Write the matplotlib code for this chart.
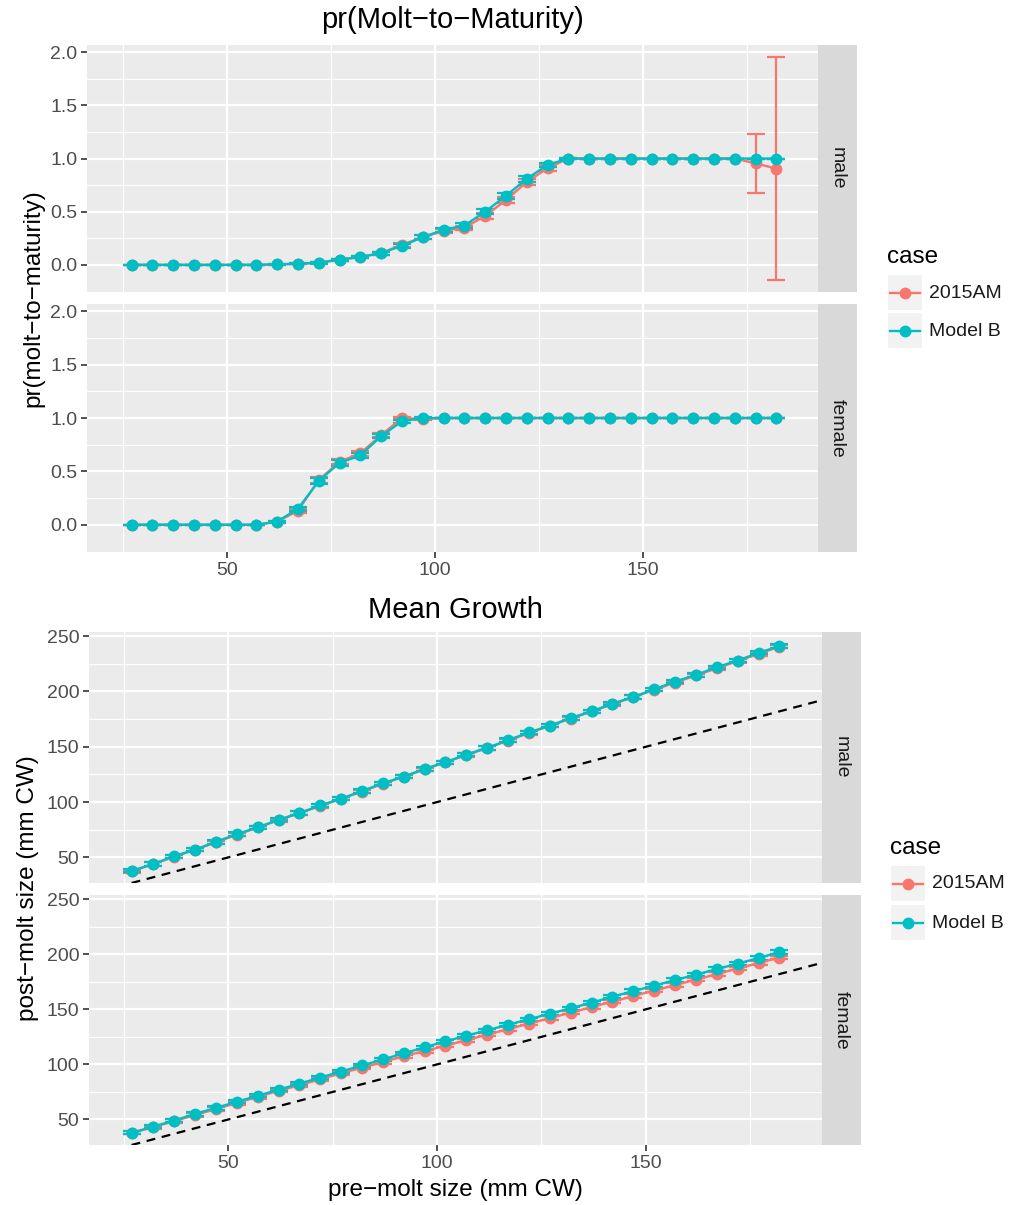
import matplotlib
matplotlib.use("Agg")
import matplotlib.pyplot as plt
from matplotlib.lines import Line2D

plt.rcParams['font.family'] = ['Liberation Sans', 'DejaVu Sans']

# pre-molt size bins (mm CW)
size_bins = [27, 32, 37, 42, 47, 52, 57, 62, 67, 72, 77, 82, 87, 92, 97, 102,
             107, 112, 117, 122, 127, 132, 137, 142, 147, 152, 157, 162, 167, 172, 177, 182]
cases = ['2015AM', 'Model B']

# pr(molt-to-maturity)
mat_male_am = [0, 0, 0, 0, 0, 0, 0, 0.005, 0.01, 0.02, 0.05, 0.075, 0.11, 0.19, 0.26, 0.32,
               0.35, 0.46, 0.61, 0.78, 0.91, 1, 1, 1, 1, 1, 1, 1, 1, 1, 0.955, 0.905]
mat_male_b = [0, 0, 0, 0, 0, 0, 0, 0.005, 0.01, 0.02, 0.05, 0.075, 0.11, 0.18, 0.26, 0.33,
              0.37, 0.50, 0.65, 0.81, 0.94, 1, 1, 1, 1, 1, 1, 1, 1, 1, 1, 1]
mat_female_am = [0, 0, 0, 0, 0, 0, 0, 0.03, 0.13, 0.42, 0.59, 0.67, 0.84, 1.0, 0.99, 1,
                 1, 1, 1, 1, 1, 1, 1, 1, 1, 1, 1, 1, 1, 1, 1, 1]
mat_female_b = [0, 0, 0, 0, 0, 0, 0, 0.03, 0.15, 0.41, 0.58, 0.65, 0.83, 0.97, 1.0, 1,
                1, 1, 1, 1, 1, 1, 1, 1, 1, 1, 1, 1, 1, 1, 1, 1]
# half-widths of the error bars
mat_male_am_ci = [0, 0, 0, 0, 0, 0, 0, 0.003, 0.005, 0.008, 0.01, 0.012, 0.015, 0.02, 0.02, 0.02,
                  0.02, 0.025, 0.03, 0.03, 0.025, 0.005, 0, 0, 0, 0, 0, 0, 0, 0, 0.275, 1.05]
mat_male_b_ci = [0, 0, 0, 0, 0, 0, 0, 0.003, 0.005, 0.008, 0.01, 0.012, 0.015, 0.02, 0.02, 0.02,
                 0.02, 0.025, 0.03, 0.03, 0.02, 0.005, 0, 0, 0, 0, 0, 0, 0, 0, 0, 0]
mat_female_am_ci = [0, 0, 0, 0, 0, 0, 0, 0.01, 0.02, 0.025, 0.025, 0.025, 0.02, 0.01, 0.005, 0,
                    0, 0, 0, 0, 0, 0, 0, 0, 0, 0, 0, 0, 0, 0, 0, 0]
mat_female_b_ci = [0, 0, 0, 0, 0, 0, 0, 0.01, 0.02, 0.025, 0.025, 0.025, 0.02, 0.015, 0.005, 0,
                   0, 0, 0, 0, 0, 0, 0, 0, 0, 0, 0, 0, 0, 0, 0, 0]

# mean post-molt size (mm CW)
grow_male_am = [37.5, 44, 50.5, 57, 63.5, 70.5, 77, 83.5, 90, 96.5, 103, 109.5, 116.5, 123, 129.5, 136,
                142.5, 149, 155.5, 162.5, 169, 175.5, 182, 188.5, 195, 201.5, 208, 214.5, 221, 227.5, 234, 240.5]
grow_male_b = [38, 44, 51, 57, 64, 71, 77, 84, 90, 97, 103, 110, 117, 123, 130, 136,
               143, 149, 156, 163, 169, 176, 182, 189, 195, 202, 209, 215, 222, 228, 235, 241]
grow_female_am = [38, 43, 48.5, 54, 59.5, 65, 70.5, 76, 81, 86.5, 92, 97, 102, 107.5, 112, 117,
                  122, 127, 132, 137, 142, 147, 152, 157, 162, 167, 172, 177, 182, 187, 192, 197]
grow_female_b = [38, 43.5, 49, 55, 60.5, 66, 71.5, 77, 82.5, 88, 93.5, 99, 104.5, 110, 115.5, 121,
                 126, 131, 136, 141, 146, 151, 156, 161.5, 166.5, 171.5, 176.5, 181.5, 186.5, 191.5, 196.5, 202]
grow_ci = [1.5] * 32

COLORS = {'2015AM': '#F8766D', 'Model B': '#00BFC4'}
PANEL_BG = '#EBEBEB'
STRIP_BG = '#D9D9D9'
TICK_COL = '#4D4D4D'

W, H = 1025, 1205
fig = plt.figure(figsize=(W / 100, H / 100), dpi=100)


def fbox(l, t, r, b):
    return [l / W, 1 - b / H, (r - l) / W, (b - t) / H]


def ftext(x, y, s, **kw):
    fig.text(x / W, 1 - y / H, s, **kw)


def panel(box, xlim, ylim, yticks, yminor, show_x):
    ax = fig.add_axes(fbox(*box))
    ax.set_facecolor(PANEL_BG)
    ax.set_xlim(*xlim)
    ax.set_ylim(*ylim)
    ax.set_xticks([50, 100, 150])
    ax.set_xticks([25, 75, 125, 175], minor=True)
    ax.set_yticks(yticks)
    ax.set_yticks(yminor, minor=True)
    ax.grid(True, which='major', color='white', lw=1.6)
    ax.grid(True, which='minor', color='white', lw=0.8)
    ax.set_axisbelow(True)
    for s in ax.spines.values():
        s.set_visible(False)
    ax.tick_params(which='minor', length=0)
    ax.tick_params(which='major', length=4, width=1.2, color='#333333',
                   labelsize=14, labelcolor=TICK_COL, pad=3)
    if not show_x:
        ax.tick_params(axis='x', which='major', length=0, labelbottom=False)
    return ax


def strip(box, label):
    sx = fig.add_axes(fbox(*box))
    sx.set_facecolor(STRIP_BG)
    sx.set_xticks([])
    sx.set_yticks([])
    for s in sx.spines.values():
        s.set_visible(False)
    sx.text(0.5, 0.5, label, rotation=270, ha='center', va='center',
            fontsize=14, color='#1A1A1A', transform=sx.transAxes)


def series(ax, y, ci, case):
    ax.errorbar(size_bins, y, yerr=ci, color=COLORS[case], lw=1.7, marker='o', ms=7.5,
                capsize=6.7, elinewidth=1.6, capthick=1.6, zorder=3)


def legend(x, y_title, key_tops):
    ftext(x, y_title, 'case', fontsize=17.5, ha='left', va='center')
    for case, top in zip(cases, key_tops):
        kx = fig.add_axes(fbox(x + 1, top, x + 35, top + 35))
        kx.set_facecolor('#F2F2F2')
        kx.set_xlim(0, 1)
        kx.set_ylim(0, 1)
        kx.set_xticks([])
        kx.set_yticks([])
        for s in kx.spines.values():
            s.set_visible(False)
        kx.add_line(Line2D([0.05, 0.95], [0.5, 0.5], color=COLORS[case], lw=1.7))
        kx.plot([0.5], [0.5], 'o', color=COLORS[case], ms=7.5)
        ftext(x + 42, top + 18, case, fontsize=14, ha='left', va='center', color='#1A1A1A')


# ---- top chart: pr(molt-to-maturity)
mat_xlim = (16.3, 192.0)
mat_ylim = (-0.255, 2.068)
mat_ticks = [0.0, 0.5, 1.0, 1.5, 2.0]
mat_minor = [0.25, 0.75, 1.25, 1.75]

ax1 = panel((87, 45, 818, 292), mat_xlim, mat_ylim, mat_ticks, mat_minor, False)
series(ax1, mat_male_am, mat_male_am_ci, '2015AM')
series(ax1, mat_male_b, mat_male_b_ci, 'Model B')
ax1.set_yticklabels(['0.0', '0.5', '1.0', '1.5', '2.0'])
strip((818, 45, 857, 292), 'male')

ax2 = panel((87, 304, 818, 552), mat_xlim, mat_ylim, mat_ticks, mat_minor, True)
series(ax2, mat_female_am, mat_female_am_ci, '2015AM')
series(ax2, mat_female_b, mat_female_b_ci, 'Model B')
ax2.set_yticklabels(['0.0', '0.5', '1.0', '1.5', '2.0'])
strip((818, 304, 857, 552), 'female')

ftext(452, 20, 'pr(Molt\u2212to\u2212Maturity)', fontsize=21, ha='center', va='center')
ftext(33, 298, 'pr(molt\u2212to\u2212maturity)', fontsize=17.5, rotation=90, ha='center', va='center')
legend(887, 257, [275, 313])

# ---- bottom chart: mean growth
gr_xlim = (16.6, 192.2)
gr_ylim = (26.8, 253.8)
gr_ticks = [50, 100, 150, 200, 250]
gr_minor = [75, 125, 175, 225]

ax3 = panel((89, 632, 822, 883), gr_xlim, gr_ylim, gr_ticks, gr_minor, False)
ax3.axline((0, 0), slope=1, color='black', ls=(0, (4, 3)), lw=1.6, zorder=2)
series(ax3, grow_male_am, grow_ci, '2015AM')
series(ax3, grow_male_b, grow_ci, 'Model B')
strip((822, 632, 861, 883), 'male')

ax4 = panel((89, 895, 822, 1145), gr_xlim, gr_ylim, gr_ticks, gr_minor, True)
ax4.axline((0, 0), slope=1, color='black', ls=(0, (4, 3)), lw=1.6, zorder=2)
series(ax4, grow_female_am, grow_ci, '2015AM')
series(ax4, grow_female_b, grow_ci, 'Model B')
strip((822, 895, 861, 1145), 'female')

ftext(455, 610, 'Mean Growth', fontsize=21, ha='center', va='center')
ftext(455, 1190, 'pre\u2212molt size (mm CW)', fontsize=17.5, ha='center', va='center')
ftext(28, 888, 'post\u2212molt size (mm CW)', fontsize=17.5, rotation=90, ha='center', va='center')
legend(890, 848, [866, 905])

fig.savefig('out.png', dpi=100, facecolor='white')
